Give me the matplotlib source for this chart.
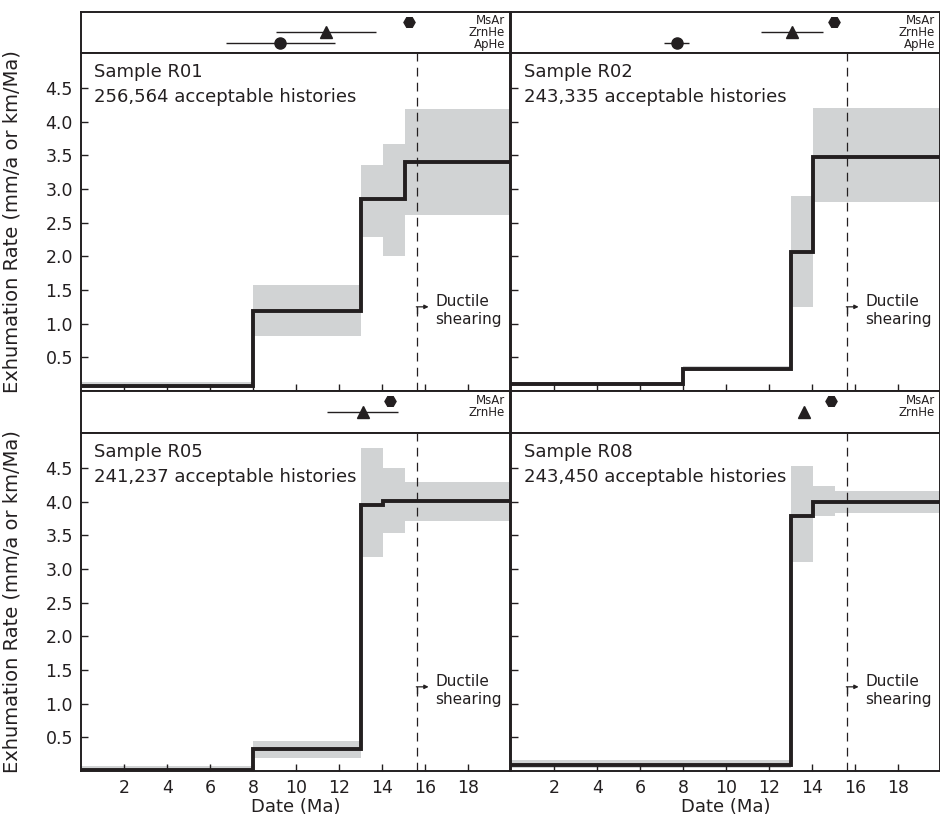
import numpy as np
import matplotlib
matplotlib.use('Agg')
import matplotlib.pyplot as plt

# sample names and number of accepted histories
samples = ['R01', 'R02', 'R05', 'R08']
histories = ['256,564', '243,335', '241,237', '243,450']

# exhumation rate step models (edges in Ma, rate in mm/a)
r01_edges = [0, 8, 13, 14.05, 15.05, 20]
r01_rate = [0.08, 1.19, 2.85, 2.85, 3.40]
r01_lo = [0.04, 0.81, 2.29, 2.01, 2.62]
r01_hi = [0.13, 1.57, 3.36, 3.67, 4.19]

r02_edges = [0, 8, 13, 14.05, 20]
r02_rate = [0.10, 0.33, 2.07, 3.48]
r02_lo = [0.07, 0.29, 1.25, 2.81]
r02_hi = [0.13, 0.37, 2.90, 4.21]

r05_edges = [0, 8, 13, 14.05, 15.05, 20]
r05_rate = [0.02, 0.32, 3.95, 4.01, 4.01]
r05_lo = [0.0, 0.19, 3.18, 3.53, 3.72]
r05_hi = [0.07, 0.44, 4.80, 4.50, 4.29]

r08_edges = [0, 13, 14.05, 15.05, 20]
r08_rate = [0.09, 3.78, 4.00, 4.00]
r08_lo = [0.04, 3.10, 3.78, 3.83]
r08_hi = [0.17, 4.53, 4.23, 4.16]

# thermochronology ages (Ma)
msar_age = [15.24, 15.0, 14.36, 14.86]
zrn_age = [11.37, 13.07, 13.09, 13.61]
zrn_lo = [9.04, 11.6, 11.44, 13.61]
zrn_hi = [13.69, 14.5, 14.74, 13.61]
ap_age = [9.24, 7.69, None, None]
ap_lo = [6.73, 7.10, None, None]
ap_hi = [11.80, 8.28, None, None]

ductile_age = 15.6
yticks = [0.5, 1.0, 1.5, 2.0, 2.5, 3.0, 3.5, 4.0, 4.5]
xticks = [2, 4, 6, 8, 10, 12, 14, 16, 18]

models = [(r01_edges, r01_rate, r01_lo, r01_hi),
          (r02_edges, r02_rate, r02_lo, r02_hi),
          (r05_edges, r05_rate, r05_lo, r05_hi),
          (r08_edges, r08_rate, r08_lo, r08_hi)]

dark = '#231f20'
grey = '#d1d3d4'
plt.rcParams['font.family'] = 'DejaVu Sans'

fig = plt.figure(figsize=(9.4, 8.21), dpi=100)

W, H = 940.0, 821.0
col_x = [81.3, 511.3]
col_w = 429.0
row_strip = [(12, 53), (391, 433)]
row_main = [(53, 391), (433, 771)]

for i in range(4):
    r, c = divmod(i, 2)
    x0 = col_x[c] / W
    w = col_w / W
    s0, s1 = row_strip[r]
    m0, m1 = row_main[r]
    ax_s = fig.add_axes([x0, 1 - s1 / H, w, (s1 - s0) / H])
    ax = fig.add_axes([x0, 1 - m1 / H, w, (m1 - m0) / H])

    edges, rate, lo, hi = models[i]
    edges = np.array(edges)
    lo = np.array(lo)
    hi = np.array(hi)
    ax.bar(edges[:-1], hi - lo, width=np.diff(edges), bottom=lo, align='edge',
           color=grey, linewidth=0, zorder=1)
    ax.stairs(rate, edges, baseline=None, color=dark, linewidth=2.8, zorder=3)
    ax.axvline(ductile_age, color=dark, linewidth=0.9, dashes=(7, 5), zorder=2)

    # ductile shearing marker
    ax.plot([ductile_age, ductile_age], [1.25, 1.16], color=dark, lw=0.9, zorder=4)
    ax.annotate('', xy=(16.15, 1.25), xytext=(ductile_age - 0.02, 1.25),
                arrowprops=dict(arrowstyle='-|>', color=dark, lw=0.9,
                                mutation_scale=6, shrinkA=0, shrinkB=0), zorder=4)
    ax.text(16.45, 1.2, 'Ductile\nshearing', fontsize=11, color=dark,
            va='center', ha='left', linespacing=1.25)

    ax.text(0.03, 0.945, 'Sample ' + samples[i], transform=ax.transAxes,
            fontsize=13, color=dark, va='center', ha='left')
    ax.text(0.03, 0.869, histories[i] + ' acceptable histories',
            transform=ax.transAxes, fontsize=13, color=dark, va='center', ha='left')

    ax.set_xlim(0, 19.95)
    ax.set_ylim(0, 5.02)
    ax.set_yticks(yticks)
    ax.set_xticks(xticks)
    ax.tick_params(direction='in', length=5, width=1, color=dark,
                   labelsize=12.5, labelcolor=dark, pad=6)
    if c == 0:
        ax.set_yticklabels(['%.1f' % v for v in yticks])
        ax.set_ylabel('Exhumation Rate (mm/a or km/Ma)', fontsize=14, color=dark)
        ax.yaxis.set_label_coords(-0.139, 0.5)
    else:
        ax.set_yticklabels([])
    if r == 1:
        ax.set_xticklabels([str(v) for v in xticks])
        ax.set_xlabel('Date (Ma)', fontsize=13, color=dark)
        ax.xaxis.set_label_coords(0.5, -0.08)
    else:
        ax.set_xticklabels([])
    for sp in ax.spines.values():
        sp.set_color(dark)
        sp.set_linewidth(1.4)

    # age strip
    ax_s.set_xlim(0, 19.95)
    ax_s.set_ylim(0, 4)
    ax_s.set_xticks([])
    ax_s.set_yticks([])
    for sp in ax_s.spines.values():
        sp.set_color(dark)
        sp.set_linewidth(1.4)
    ax_s.plot([msar_age[i]], [3], marker='H', color=dark, markersize=8, linestyle='none')
    ax_s.errorbar([zrn_age[i]], [2], xerr=[[zrn_age[i] - zrn_lo[i]], [zrn_hi[i] - zrn_age[i]]],
                  fmt='^', color=dark, markersize=8, elinewidth=1, capsize=0)
    labels = ['MsAr', 'ZrnHe']
    if ap_age[i] is not None:
        ax_s.errorbar([ap_age[i]], [1], xerr=[[ap_age[i] - ap_lo[i]], [ap_hi[i] - ap_age[i]]],
                      fmt='o', color=dark, markersize=8, elinewidth=1, capsize=0)
        labels.append('ApHe')
    ymid = 0.75 - 0.125 * (len(labels) - 1)
    ax_s.text(0.988, ymid, '\n'.join(labels), transform=ax_s.transAxes,
              fontsize=8.5, color=dark, ha='right', va='center', linespacing=0.92)

fig.savefig('out.png', dpi=100)
